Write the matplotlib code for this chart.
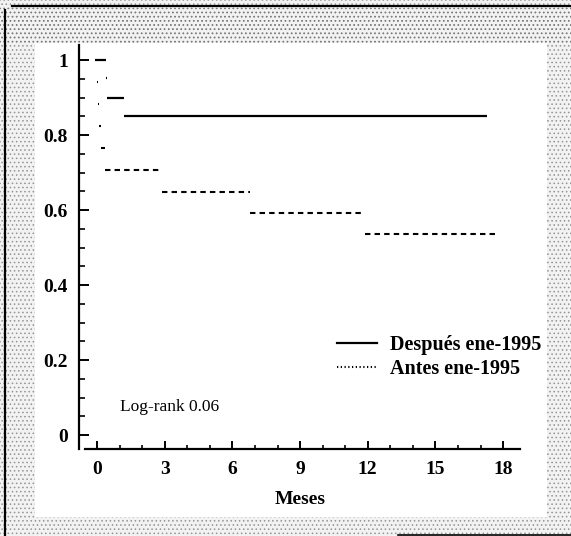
import matplotlib.pyplot as plt
from matplotlib.lines import Line2D
from matplotlib.patches import Rectangle
from matplotlib.ticker import MultipleLocator

# survival steps: level held from start[i] to end[i]
despues_start = [-0.08, 0.40, 0.45, 1.2]
despues_end = [0.40, 0.45, 1.2, 17.3]
despues_surv = [1.0, 0.952, 0.90, 0.851]

antes_start = [0.0, 0.04, 0.10, 0.18, 0.35, 2.9, 6.8, 11.9]
antes_end = [0.04, 0.10, 0.18, 0.35, 2.9, 6.8, 11.9, 17.8]
antes_surv = [0.941, 0.882, 0.824, 0.765, 0.706, 0.647, 0.593, 0.537]

x_ticks = [0, 3, 6, 9, 12, 15, 18]
y_ticks = [0, 0.2, 0.4, 0.6, 0.8, 1]
y_labels = ["0", "0.2", "0.4", "0.6", "0.8", "1"]

plt.rcParams["font.family"] = ["Liberation Serif", "DejaVu Serif"]
plt.rcParams["hatch.linewidth"] = 0.6

W, H = 571, 536
fig = plt.figure(figsize=(W / 100, H / 100), dpi=100)

# grey stippled frame around the white panel
frame = Rectangle((0, 0), 1, 1, transform=fig.transFigure, facecolor="#f2f2f2",
                  edgecolor="#949494", hatch="....", linewidth=0, zorder=-3)
fig.patches.append(frame)
top_band = Rectangle((0, 1 - 43 / H), 1, 35 / H, transform=fig.transFigure,
                     facecolor="none", edgecolor="#7a7a7a", hatch="....",
                     linewidth=0, zorder=-2)
fig.patches.append(top_band)
panel = Rectangle((35 / W, 1 - 517 / H), (547 - 35) / W, (517 - 43) / H,
                  transform=fig.transFigure, facecolor="white", edgecolor="none",
                  zorder=-1)
fig.patches.append(panel)
fig.add_artist(Line2D([5 / W, 5 / W], [0, 1 - 10 / H], transform=fig.transFigure,
                      color="black", lw=1.6))
fig.add_artist(Line2D([12 / W, 1], [1 - 6 / H, 1 - 6 / H], transform=fig.transFigure,
                      color="black", lw=1.6))
fig.add_artist(Line2D([398 / W, 1], [1 - 535 / H, 1 - 535 / H], transform=fig.transFigure,
                      color="black", lw=1.2))

ax = fig.add_axes([79 / W, 1 - 449 / H, (520 - 79) / W, (449 - 45) / H])
ax.patch.set_alpha(0)

ax.hlines(despues_surv, despues_start, despues_end, colors="black", linewidth=1.6)
ax.hlines(antes_surv, antes_start, antes_end, colors="black", linewidth=1.5,
          linestyles=[(0, (2.6, 2.0))])

ax.set_xlim(-0.8, 18.75)
ax.set_ylim(-0.037, 1.04)

for side in ["top", "right"]:
    ax.spines[side].set_visible(False)
ax.spines["left"].set_linewidth(1.6)
ax.spines["bottom"].set_linewidth(1.6)
ax.spines["bottom"].set_bounds(-0.55, 18.75)

ax.set_xticks(x_ticks)
ax.set_xticklabels([str(t) for t in x_ticks])
ax.xaxis.set_minor_locator(MultipleLocator(1))
ax.set_yticks(y_ticks)
ax.set_yticklabels(y_labels)
ax.yaxis.set_minor_locator(MultipleLocator(0.05))

ax.tick_params(axis="y", which="major", direction="in", length=7, width=1.4, pad=8)
ax.tick_params(axis="y", which="minor", direction="in", length=4.5, width=1.2)
ax.tick_params(axis="x", which="major", direction="in", length=6, width=1.4, pad=9)
ax.tick_params(axis="x", which="minor", direction="in", length=3, width=1.2)
for lbl in ax.get_xticklabels() + ax.get_yticklabels():
    lbl.set_fontweight("bold")
    lbl.set_fontsize(14)

ax.text(1.02, 0.075, "Log-rank 0.06", fontsize=12.5, ha="left", va="center")

fig.text(300 / W, 1 - 500 / H, "Meses", fontsize=14, fontweight="bold",
         ha="center", va="center")

handles = [Line2D([], [], color="black", lw=1.6),
           Line2D([], [], color="black", lw=1.5, linestyle=(0, (0.6, 1.2)))]
ax.legend(handles, ["Después ene-1995", "Antes ene-1995"], loc="upper left",
          bbox_to_anchor=(337 / W, 1 - 335 / H), bbox_transform=fig.transFigure,
          frameon=False, borderpad=0, borderaxespad=0, handlelength=2.0,
          handletextpad=0.65, labelspacing=0.2,
          prop={"size": 14.5, "weight": "bold", "family": "Liberation Serif"})

fig.savefig("out.png", dpi=100)
